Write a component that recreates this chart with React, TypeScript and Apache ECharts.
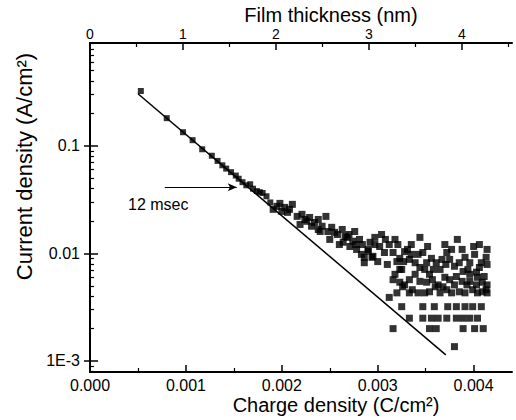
import React, { useEffect, useRef } from "react";
import * as echarts from "echarts";

// Along the straight fit
const lineCharge = [0.00053, 0.0008, 0.00097, 0.00107, 0.00117, 0.00127, 0.00133, 0.00138, 0.00142, 0.00147, 0.00152, 0.00155, 0.00159, 0.00163, 0.00167, 0.0017, 0.00174, 0.00177, 0.0018, 0.00184, 0.00188];
const lineCurrent = [0.324, 0.181, 0.134, 0.113, 0.093, 0.081, 0.0725, 0.066, 0.0615, 0.057, 0.053, 0.0495, 0.046, 0.043, 0.044, 0.04, 0.038, 0.0371, 0.0365, 0.034, 0.0298];

// Band leaving the fit
const bandCharge = [0.00191, 0.00195, 0.002, 0.00203, 0.00206, 0.00211, 0.00216, 0.00219, 0.00221, 0.00226, 0.00229, 0.00231, 0.00234, 0.00238, 0.00238, 0.00242, 0.00246, 0.00248, 0.0025, 0.00252, 0.00255, 0.00258, 0.0026, 0.00263, 0.00264, 0.00268, 0.0027, 0.00271, 0.00274, 0.00276, 0.00278, 0.00281, 0.00283, 0.00284, 0.00286, 0.00286, 0.0029, 0.0029, 0.00292, 0.00294, 0.00295, 0.00297, 0.003, 0.00277, 0.00266, 0.0024, 0.00224, 0.00208, 0.00198];
const bandCurrent = [0.0257, 0.0274, 0.0246, 0.0268, 0.0241, 0.0286, 0.0221, 0.0186, 0.0231, 0.0199, 0.0216, 0.0179, 0.0194, 0.0167, 0.0207, 0.0179, 0.0221, 0.016, 0.0135, 0.0175, 0.0157, 0.015, 0.0121, 0.0167, 0.0127, 0.0141, 0.015, 0.0116, 0.013, 0.016, 0.0109, 0.0135, 0.0098, 0.0121, 0.0092, 0.0082, 0.0105, 0.0109, 0.0127, 0.0092, 0.0094, 0.0121, 0.0084, 0.0121, 0.0144, 0.016, 0.0207, 0.0257, 0.0292];

// Upper scatter at high charge
const upperCharge = [0.00302, 0.00304, 0.00307, 0.0031, 0.00312, 0.00316, 0.00318, 0.0032, 0.00323, 0.00328, 0.00331, 0.00333, 0.00335, 0.00339, 0.00342, 0.00344, 0.00347, 0.00351, 0.00356, 0.00361, 0.00367, 0.0037, 0.00372, 0.00375, 0.0038, 0.00383, 0.00385, 0.00388, 0.00389, 0.00396, 0.00401, 0.00403, 0.00406, 0.00408, 0.00411, 0.00414, 0.00414, 0.00297, 0.00308, 0.00321, 0.00327, 0.00335, 0.00344, 0.00352, 0.00358, 0.00371, 0.00377, 0.00391, 0.00394, 0.004, 0.00406, 0.00413];
const upperCurrent = [0.0116, 0.015, 0.0102, 0.0079, 0.0121, 0.0102, 0.0135, 0.0084, 0.009, 0.0104, 0.0109, 0.0088, 0.0121, 0.0082, 0.0098, 0.0141, 0.0102, 0.0082, 0.009, 0.0082, 0.0088, 0.0121, 0.0102, 0.0088, 0.0076, 0.0135, 0.0082, 0.0109, 0.0068, 0.0082, 0.0098, 0.0067, 0.0121, 0.0082, 0.0061, 0.0079, 0.0109, 0.0141, 0.0135, 0.0121, 0.0084, 0.0098, 0.0074, 0.0116, 0.0071, 0.0079, 0.0109, 0.0092, 0.0071, 0.0116, 0.0074, 0.0092];

// Lower scatter at high charge
const lowerCharge = [0.00316, 0.00318, 0.00323, 0.00325, 0.00326, 0.00333, 0.00336, 0.00344, 0.00349, 0.00351, 0.00354, 0.00354, 0.00357, 0.00365, 0.00368, 0.00372, 0.00375, 0.00382, 0.00385, 0.00393, 0.00396, 0.00396, 0.00399, 0.00403, 0.00409, 0.00409, 0.00312, 0.0032, 0.00333, 0.00349, 0.00365, 0.00377, 0.00391, 0.00404, 0.00414, 0.00328, 0.00363, 0.0038, 0.00414, 0.00323, 0.00339, 0.0037, 0.00388, 0.00404, 0.0036, 0.00342, 0.00413];
const lowerCurrent = [0.0057, 0.0064, 0.0054, 0.0071, 0.0049, 0.0057, 0.0046, 0.0055, 0.0071, 0.0054, 0.0044, 0.0064, 0.0057, 0.0071, 0.0049, 0.0046, 0.0057, 0.0061, 0.0044, 0.0051, 0.0055, 0.0064, 0.0046, 0.0051, 0.0054, 0.0044, 0.0039, 0.0043, 0.0043, 0.0043, 0.0043, 0.0043, 0.0043, 0.0043, 0.0043, 0.0051, 0.0051, 0.0051, 0.0051, 0.0071, 0.0064, 0.006, 0.0055, 0.006, 0.0049, 0.0043, 0.0046];

// Quantized rows at the lowest currents
const rowCharge = [0.00325, 0.00347, 0.00359, 0.00373, 0.00382, 0.00391, 0.00399, 0.00408, 0.00333, 0.00347, 0.00356, 0.00363, 0.00372, 0.00382, 0.00389, 0.00396, 0.00404, 0.00316, 0.00354, 0.00361, 0.00389, 0.00401, 0.0041, 0.0038];
const rowCurrent = [0.0032, 0.0032, 0.0032, 0.0032, 0.0032, 0.0032, 0.0032, 0.0032, 0.0025, 0.0025, 0.0025, 0.0025, 0.0025, 0.0025, 0.0025, 0.0025, 0.0025, 0.002, 0.002, 0.002, 0.002, 0.002, 0.002, 0.00136];

// Fitted straight line
const fitCharge = [0.0005, 0.00371];
const fitCurrent = [0.305, 0.00114];

// Annotation arrow (data coordinates)
const arrowCharge = [0.00078, 0.00153];
const arrowCurrent = 0.0412;
const annotationText = "12 msec";

// Axes
const xMin = 0;
const xMax = 0.0044;
const xMajor = [0, 0.001, 0.002, 0.003, 0.004];
const xMinor = [0.0005, 0.0015, 0.0025, 0.0035];
const thickMax = 4.54;
const thickMajor = [0, 1, 2, 3, 4];
const thickMinor = [0.5, 1.5, 2.5, 3.5, 4.5];
const yMin = 0.00079;
const yMax = 0.905;
const yMajor = [0.001, 0.01, 0.1];
const yMajorLabels = ["1E-3", "0.01", "0.1"];
const yMinor = [0.0008, 0.0009, 0.002, 0.003, 0.004, 0.005, 0.006, 0.007, 0.008, 0.009, 0.02, 0.03, 0.04, 0.05, 0.06, 0.07, 0.08, 0.09, 0.2, 0.3, 0.4, 0.5, 0.6, 0.7, 0.8, 0.9];

const FONT = "'Liberation Sans', Arial, Helvetica, sans-serif";

function zip(a: number[], b: number[]) {
  return a.map((v, i) => [v, b[i]]);
}

export default function App() {
  const ref = useRef<HTMLDivElement>(null);
  useEffect(() => {
    if (!ref.current) return;
    const chart = echarts.init(ref.current, null, { renderer: "svg" });
    const black = "#000";
    const linePts = zip(lineCharge, lineCurrent);
    const cloudPts = [
      ...zip(bandCharge, bandCurrent),
      ...zip(upperCharge, upperCurrent),
      ...zip(lowerCharge, lowerCurrent),
      ...zip(rowCharge, rowCurrent),
    ];
    const hidden = { show: false };
    const yLabel = (v: number) => {
      let best = 0;
      let bd = Infinity;
      yMajor.forEach((m, i) => {
        const d = Math.abs(Math.log10(v) - Math.log10(m));
        if (d < bd) { bd = d; best = i; }
      });
      return yMajorLabels[best];
    };
    chart.setOption({
      animation: false,
      backgroundColor: "#fff",
      textStyle: { fontFamily: FONT, color: black },
      grid: { left: 90, right: 4, top: 43, bottom: 48, containLabel: false, outerBoundsMode: "none" },
      xAxis: [
        {
          type: "value", position: "bottom", min: xMin, max: xMax,
          name: "Charge density (C/cm²)", nameLocation: "middle", nameGap: 23, nameMoveOverlap: false,
          nameTextStyle: { fontSize: 20, color: black, fontFamily: FONT, padding: [0, 0, 0, 70] },
          axisLine: { show: true, lineStyle: { color: black, width: 2 } },
          axisTick: { show: true, inside: true, length: 7, customValues: xMajor, lineStyle: { color: black, width: 1.5 } },
          axisLabel: { customValues: xMajor, margin: 5, fontSize: 16, color: black, fontFamily: FONT, formatter: (v: number) => v.toFixed(3) },
          splitLine: hidden,
        },
        {
          type: "value", position: "bottom", min: xMin, max: xMax,
          axisLine: hidden, axisLabel: hidden, splitLine: hidden,
          axisTick: { show: true, inside: true, length: 4, customValues: xMinor, lineStyle: { color: black, width: 1.2 } },
        },
        {
          type: "value", position: "top", min: 0, max: thickMax,
          name: "Film thickness (nm)", nameLocation: "middle", nameGap: 18, nameMoveOverlap: false,
          nameTextStyle: { fontSize: 20, color: black, fontFamily: FONT, padding: [0, 0, 0, 60] },
          axisLine: { show: true, lineStyle: { color: black, width: 2 } },
          axisTick: { show: true, inside: true, length: 7, customValues: thickMajor, lineStyle: { color: black, width: 1.5 } },
          axisLabel: { customValues: thickMajor, margin: 2, fontSize: 14, color: black, fontFamily: FONT, formatter: (v: number) => String(Math.round(v)) },
          splitLine: hidden,
        },
        {
          type: "value", position: "top", min: 0, max: thickMax,
          axisLine: hidden, axisLabel: hidden, splitLine: hidden,
          axisTick: { show: true, inside: true, length: 4, customValues: thickMinor, lineStyle: { color: black, width: 1.2 } },
        },
      ],
      yAxis: [
        {
          type: "log", position: "left", min: yMin, max: yMax, logBase: 10,
          name: "Current density (A/cm²)", nameLocation: "middle", nameGap: 54,
          nameTextStyle: { fontSize: 22, color: black, fontFamily: FONT, padding: [0, 0, 0, 82] },
          axisLine: { show: true, lineStyle: { color: black, width: 2 } },
          axisTick: { show: true, inside: true, length: 8, customValues: yMajor, lineStyle: { color: black, width: 1.5 } },
          axisLabel: { customValues: yMajor, margin: 10, fontSize: 16, color: black, fontFamily: FONT, formatter: yLabel },
          splitLine: hidden,
        },
        {
          type: "log", position: "left", min: yMin, max: yMax, logBase: 10,
          axisLine: hidden, axisLabel: hidden, splitLine: hidden,
          axisTick: { show: true, inside: true, length: 4, customValues: yMinor, lineStyle: { color: black, width: 1.2 } },
        },
        {
          type: "log", position: "right", min: yMin, max: yMax, logBase: 10,
          axisLine: { show: true, lineStyle: { color: black, width: 2 } },
          axisLabel: hidden, splitLine: hidden,
          axisTick: { show: true, inside: true, length: 6, customValues: yMajor, lineStyle: { color: black, width: 1.5 } },
        },
      ],
      series: [
        {
          type: "scatter", xAxisIndex: 0, yAxisIndex: 0,
          symbol: "rect", symbolSize: 6,
          itemStyle: { color: black },
          data: linePts,
        },
        {
          type: "scatter", xAxisIndex: 0, yAxisIndex: 0,
          symbol: "rect", symbolSize: 7,
          itemStyle: { color: black },
          data: cloudPts,
        },
        {
          type: "line", xAxisIndex: 0, yAxisIndex: 0,
          showSymbol: false, symbol: "none",
          lineStyle: { color: black, width: 1.5 },
          data: zip(fitCharge, fitCurrent),
          markLine: {
            silent: true, animation: false,
            symbol: ["none", "arrow"], symbolSize: [6, 9],
            lineStyle: { color: black, width: 1, type: "solid" },
            label: { show: false },
            data: [[{ coord: [arrowCharge[0], arrowCurrent] }, { coord: [arrowCharge[1], arrowCurrent] }]],
          },
        },
      ],
      graphic: [
        {
          type: "text", left: 128, top: 196,
          style: { text: annotationText, font: `16px ${FONT}`, fill: black },
        },
      ],
    });
    return () => chart.dispose();
  }, []);
  return (
    <div
      ref={ref}
      style={{ position: "fixed", left: 0, top: 0, width: 516, height: 420, background: "#fff" }}
    />
  );
}
